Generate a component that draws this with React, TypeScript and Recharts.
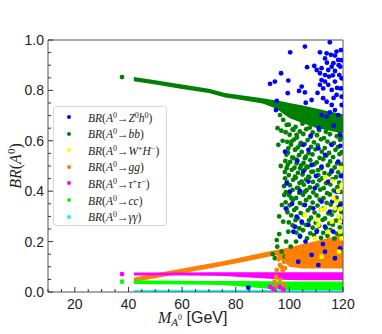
import React from 'react';
import { ComposedChart, Area, Scatter, XAxis, YAxis, ReferenceArea, Label } from 'recharts';

// band outlines (low/high) read at these masses
const bandX = [42, 50, 60, 70, 76, 80, 90, 95, 98, 100, 105, 110, 115, 120];
const bbLow = [0.836, 0.823, 0.806, 0.79, 0.772, 0.766, 0.748, 0.728, 0.705, 0.69, 0.67, 0.652, 0.64, 0.63];
const bbHigh = [0.853, 0.84, 0.823, 0.807, 0.79, 0.784, 0.769, 0.76, 0.755, 0.75, 0.74, 0.728, 0.716, 0.705];
const ggLow = [0.04, 0.055, 0.074, 0.093, 0.105, 0.113, 0.135, 0.146, 0.12, 0.1, 0.093, 0.093, 0.093, 0.093];
const ggHigh = [0.057, 0.073, 0.093, 0.112, 0.124, 0.133, 0.156, 0.167, 0.173, 0.178, 0.19, 0.202, 0.215, 0.229];
const tauLow = [0.065, 0.065, 0.065, 0.064, 0.063, 0.061, 0.055, 0.051, 0.049, 0.048, 0.047, 0.047, 0.047, 0.047];
const tauHigh = [0.077, 0.077, 0.077, 0.078, 0.078, 0.078, 0.078, 0.078, 0.078, 0.078, 0.078, 0.078, 0.078, 0.078];
const ccLow = [0.032, 0.031, 0.03, 0.029, 0.027, 0.024, 0.015, 0.011, 0.009, 0.008, 0.008, 0.008, 0.008, 0.008];
const ccHigh = [0.047, 0.046, 0.045, 0.044, 0.044, 0.044, 0.043, 0.043, 0.042, 0.042, 0.042, 0.042, 0.042, 0.042];
const gamLow = [0.001, 0.001, 0.001, 0.001, 0.001, 0.001, 0.001, 0.001, 0.001, 0.001, 0.001, 0.001, 0.001, 0.001];
const gamHigh = [0.008, 0.008, 0.008, 0.008, 0.008, 0.008, 0.008, 0.008, 0.008, 0.008, 0.008, 0.008, 0.008, 0.008];

// scattered points [mass, BR]
const zhPts = [
  [105.8, 0.974], [115.1, 0.991], [100.3, 0.951], [111.4, 0.951], [113.9, 0.947], [115.5, 0.941], [117, 0.938],
  [119.2, 0.96], [118.2, 0.921], [113.3, 0.927], [116.4, 0.908], [119, 0.894], [106.6, 0.892], [109.3, 0.897],
  [112, 0.888], [114.5, 0.881], [117, 0.877], [118.6, 0.861], [96.9, 0.868], [113.3, 0.861], [112, 0.841],
  [113.3, 0.835], [111.4, 0.822], [114.5, 0.822], [115.8, 0.802], [117.6, 0.782], [119.2, 0.808], [92.8, 0.826],
  [94.6, 0.835], [99.6, 0.839], [104.6, 0.815], [103.6, 0.798], [105.8, 0.792], [99.4, 0.789], [108.3, 0.762],
  [106.1, 0.751], [95.3, 0.758], [95, 0.722], [112.6, 0.769], [113.9, 0.755], [115.8, 0.742], [117, 0.722],
  [115.1, 0.713], [118.2, 0.702], [119.5, 0.742], [112, 0.702], [113.9, 0.696], [117.6, 0.954], [119.5, 0.848],
  [114.8, 0.855], [112.6, 0.808], [117, 0.835], [111.4, 0.868], [119.5, 0.775], [110.2, 0.881], [115.8, 0.894],
  [118.4, 0.9], [116.2, 0.86], [114, 0.91], [117.8, 0.81], [110.5, 0.79], [116.5, 0.77], [119.3, 0.92],
  [105.2, 0.584], [98.4, 0.557], [107.1, 0.564], [110.8, 0.57], [113.3, 0.544], [115.8, 0.584], [118.9, 0.623],
  [108.3, 0.504], [112, 0.497], [105.2, 0.478], [115.8, 0.478], [118.2, 0.517], [99, 0.431], [100.2, 0.398],
  [107.1, 0.438], [109.5, 0.412], [114.5, 0.438], [117.6, 0.398], [98.7, 0.332], [102.7, 0.299], [105.8, 0.345],
  [108.9, 0.332], [112, 0.359], [115.1, 0.319], [118.9, 0.345], [101.5, 0.239], [104, 0.22], [107.1, 0.266],
  [110.2, 0.239], [113.3, 0.259], [116.4, 0.239], [119.5, 0.279], [102.1, 0.259], [104.6, 0.279], [108.3, 0.147],
  [113.3, 0.16], [117, 0.134], [110.8, 0.107], [118.9, 0.173], [103.3, 0.12], [84.7, 0.017], [111, 0.65],
  [116.5, 0.66], [108, 0.62], [119, 0.58], [103, 0.52], [110, 0.46], [104, 0.4], [116, 0.36], [106, 0.2],
  [112.5, 0.19], [101, 0.35], [119.2, 0.46],
];
const bbPts = [
  [37.6, 0.853], [96.5, 0.702], [97.7, 0.683], [99, 0.663], [101.5, 0.643], [102.7, 0.623],
  [100.8, 0.597], [99.6, 0.57], [102.1, 0.564], [104, 0.584], [105.8, 0.531], [101.5, 0.531],
  [102.7, 0.511], [99, 0.491], [104, 0.491], [106.4, 0.497], [102.1, 0.458], [98.4, 0.451],
  [104.6, 0.438], [107.1, 0.458], [108.9, 0.478], [110.8, 0.464], [103.3, 0.412], [105.8, 0.398],
  [98.1, 0.385], [100.8, 0.372], [99, 0.326], [97.7, 0.279], [99.6, 0.239], [97.1, 0.16],
  [95.3, 0.206], [95.5, 0.18], [94.6, 0.134], [95.9, 0.584], [97, 0.64], [97.5, 0.6], [98.5, 0.52], [96.8, 0.5],
  [98, 0.42], [97.2, 0.345], [96.2, 0.3], [98.8, 0.2], [100.5, 0.18], [102.5, 0.2], [95.6, 0.65], [93.8, 0.15],
  [96.2, 0.23], [98.3, 0.14],
  [99.8, 0.664], [102.3, 0.655], [104.9, 0.668], [107.6, 0.652], [109.8, 0.662], [112.4, 0.657], [114.7, 0.667], [117.3, 0.653], [119.4, 0.661],
  [98.6, 0.634], [101.2, 0.645], [103.9, 0.637], [106.3, 0.646], [108.7, 0.633], [111.1, 0.642], [113.6, 0.636], [116.2, 0.647], [118.6, 0.638],
  [100.1, 0.624], [102.8, 0.613], [105.2, 0.627], [107.9, 0.616], [110.3, 0.622], [112.9, 0.611], [115.1, 0.626], [117.7, 0.618], [119.5, 0.613],
  [99.2, 0.596], [101.7, 0.605], [104.3, 0.592], [106.8, 0.603], [109.2, 0.594], [111.8, 0.606], [114.2, 0.597], [116.6, 0.591], [118.9, 0.604],
  [100.6, 0.584], [103.1, 0.573], [105.7, 0.587], [108.1, 0.576], [110.6, 0.582], [113.2, 0.571], [115.6, 0.586], [118.1, 0.575],
  [99.5, 0.553], [102.2, 0.565], [104.6, 0.556], [107.2, 0.551], [109.7, 0.566], [112.1, 0.557], [114.8, 0.552], [117.2, 0.564], [119.6, 0.555],
  [98.9, 0.545], [101.1, 0.534], [103.6, 0.543], [106.1, 0.537], [108.6, 0.546], [111.3, 0.532], [113.8, 0.541], [116.3, 0.535], [118.7, 0.547],
  [100.3, 0.516], [102.7, 0.525], [105.3, 0.512], [107.8, 0.523], [110.2, 0.514], [112.6, 0.527], [115.2, 0.518], [117.8, 0.511],
  [99.4, 0.505], [101.9, 0.493], [104.4, 0.502], [106.9, 0.496], [109.3, 0.507], [111.9, 0.491], [114.4, 0.503], [116.9, 0.494], [119.3, 0.506],
  [98.3, 0.476], [100.9, 0.485], [103.2, 0.473], [105.8, 0.486], [108.2, 0.477], [110.7, 0.484], [113.1, 0.472], [115.7, 0.483], [118.2, 0.475],
  [99.8, 0.464], [102.4, 0.453], [104.9, 0.466], [107.4, 0.455], [109.9, 0.461], [112.3, 0.452], [114.9, 0.467], [117.4, 0.456], [119.6, 0.463],
  [99.1, 0.436], [101.4, 0.445], [103.8, 0.433], [106.2, 0.446], [108.8, 0.437], [111.2, 0.443], [113.7, 0.432], [116.1, 0.447], [118.6, 0.434],
  [100.2, 0.424], [102.9, 0.413], [105.4, 0.426], [107.7, 0.415], [110.4, 0.423], [112.8, 0.412], [115.3, 0.427], [117.9, 0.416],
  [98.7, 0.396], [101.2, 0.405], [103.7, 0.393], [106.4, 0.404], [108.9, 0.395], [111.5, 0.406], [114.1, 0.392], [116.5, 0.403], [119.1, 0.397],
  [99.9, 0.384], [102.5, 0.373], [105.1, 0.386], [107.5, 0.376], [110.1, 0.383], [112.7, 0.372], [115.1, 0.387], [117.6, 0.374],
  [98.6, 0.356], [101.3, 0.365], [103.9, 0.353], [106.2, 0.364], [108.7, 0.355], [111.3, 0.366], [113.9, 0.354], [116.4, 0.363], [119.2, 0.352],
  [100.1, 0.344], [102.6, 0.333], [105.3, 0.346], [107.8, 0.335], [110.5, 0.343], [112.9, 0.332], [115.4, 0.347], [118.1, 0.336],
  [99.3, 0.316], [101.8, 0.325], [104.2, 0.313], [106.9, 0.324], [109.4, 0.315], [111.9, 0.326], [114.5, 0.312], [116.9, 0.323], [119.4, 0.317],
  [100.7, 0.304], [103.1, 0.293], [105.6, 0.306], [108.1, 0.295], [110.8, 0.303], [113.3, 0.292], [115.8, 0.307], [118.3, 0.296],
  [99.8, 0.276], [102.3, 0.285], [104.8, 0.273], [107.3, 0.284], [109.8, 0.275], [112.4, 0.286], [114.9, 0.272], [117.4, 0.283], [119.6, 0.277],
  [101.2, 0.264], [103.7, 0.253], [106.3, 0.266], [108.7, 0.255], [111.1, 0.263], [113.7, 0.252], [116.2, 0.267], [118.8, 0.256],
  [102.6, 0.236], [105.1, 0.245], [107.8, 0.233], [110.3, 0.244], [112.6, 0.235], [115.3, 0.246], [117.7, 0.232],
  [103.9, 0.224], [106.6, 0.213], [109.2, 0.226], [111.8, 0.215], [114.2, 0.223], [116.8, 0.212], [119.2, 0.227],
];
const whPts = [
  [113.3, 0.454], [118.2, 0.401], [116.4, 0.372], [119.5, 0.425], [113.3, 0.332], [117, 0.332], [118.2, 0.299],
  [118.9, 0.279], [110.2, 0.286], [110.8, 0.266], [115.8, 0.279], [109.5, 0.213], [119.5, 0.213], [114.5, 0.239],
  [117.6, 0.359], [112, 0.326], [119.5, 0.491], [105.8, 0.306], [118.9, 0.239], [118.5, 0.16], [112, 0.14],
  [116, 0.44], [119, 0.33],
];
const ggPts = [
  [96.5, 0.107], [98.4, 0.095], [99.5, 0.12], [95.3, 0.087], [101.4, 0.14], [97, 0.1], [98, 0.12], [99, 0.14],
  [96, 0.13], [97.5, 0.085], [94.5, 0.04], [95.5, 0.025], [96.5, 0.05], [93, 0.02], [95, 0.06], [98, 0.03],
  [97, 0.015],
];
const tauPts = [[37.6, 0.071], [92.8, 0.02], [96.4, 0.02], [94, 0.012], [97.8, 0.01]];
const ccPts = [[37.6, 0.041]];

const xTicks = [10, 15, 20, 25, 30, 35, 40, 45, 50, 55, 60, 65, 70, 75, 80, 85, 90, 95, 100, 105, 110, 115, 120];
const yTicks = [0, 0.05, 0.1, 0.15, 0.2, 0.25, 0.3, 0.35, 0.4, 0.45, 0.5, 0.55, 0.6, 0.65, 0.7, 0.75, 0.8, 0.85, 0.9, 0.95, 1];

const C = {
  zh: '#0000ff',
  bb: '#008000',
  wh: '#ffff00',
  gg: '#ff8000',
  tau: '#ff00ff',
  cc: '#00ff00',
  gam: '#00ffff',
};

const W = 382;
const H = 334;
const LEFT = 48;
const BOTTOM = 292;
const TICK_FONT = '"Liberation Sans", Arial, sans-serif';
const MATH_FONT = '"Liberation Serif", "Times New Roman", serif';

const bandRows = bandX.map((x, i) => ({
  x,
  bb: [bbLow[i], bbHigh[i]],
  gg: [ggLow[i], ggHigh[i]],
  tau: [tauLow[i], tauHigh[i]],
  cc: [ccLow[i], ccHigh[i]],
  gam: [gamLow[i], gamHigh[i]],
}));

const toXY = (pts: number[][]) => pts.map(([x, y]) => ({ x, y }));

const dot = (color: string) => (p: any) => <circle cx={p.cx} cy={p.cy} r={2.4} fill={color} />;

const XTick = (p: any) => {
  const v = p.payload.value;
  const x = p.payload.coordinate ?? p.x;
  const major = v % 20 === 0;
  return (
    <g>
      <line x1={x} x2={x} y1={BOTTOM} y2={BOTTOM - (major ? 5 : 3)} stroke="#333" />
      {major && (
        <text x={x} y={BOTTOM + 17} textAnchor="middle" fontSize={14} fontFamily={TICK_FONT} fill="#222">
          {v}
        </text>
      )}
    </g>
  );
};

const YTick = (p: any) => {
  const v = p.payload.value;
  const y = p.payload.coordinate ?? p.y;
  const major = Math.abs(v * 5 - Math.round(v * 5)) < 1e-6;
  return (
    <g>
      <line x1={LEFT} x2={LEFT + (major ? 5 : 3)} y1={y} y2={y} stroke="#333" />
      {major && (
        <text x={LEFT - 4} y={y + 5} textAnchor="end" fontSize={14} fontFamily={TICK_FONT} fill="#222">
          {v.toFixed(1)}
        </text>
      )}
    </g>
  );
};

const YTitle = () => (
  <text transform="translate(21,166) rotate(-90)" textAnchor="middle" fontSize={16} fontFamily={MATH_FONT} fill="#222">
    <tspan fontStyle="italic">BR</tspan>
    <tspan>(</tspan>
    <tspan fontStyle="italic">A</tspan>
    <tspan fontSize={11} dy={-6}>0</tspan>
    <tspan dy={6}>)</tspan>
  </text>
);

const XTitle = () => (
  <text x={158} y={323} fontSize={16} fontFamily={MATH_FONT} fill="#222">
    <tspan fontStyle="italic">M</tspan>
    <tspan fontStyle="italic" fontSize={11} dy={3}>A</tspan>
    <tspan fontSize={8} dy={-6}>0</tspan>
    <tspan dy={3} fontFamily={TICK_FONT} fontSize={16}> [GeV]</tspan>
  </text>
);

const sup = (s: string) => <sup style={{ fontSize: 8, fontStyle: 'normal', verticalAlign: 4 }}>{s}</sup>;
const legendItems = [
  { color: C.zh, label: <><i>BR</i>(<i>A</i>{sup('0')}→<i>Z</i>{sup('0')}<i>h</i>{sup('0')})</> },
  { color: C.bb, label: <><i>BR</i>(<i>A</i>{sup('0')}→<i>bb</i>)</> },
  { color: C.wh, label: <><i>BR</i>(<i>A</i>{sup('0')}→<i>W</i>{sup('+')}<i>H</i>{sup('−')})</> },
  { color: C.gg, label: <><i>BR</i>(<i>A</i>{sup('0')}→<i>gg</i>)</> },
  { color: C.tau, label: <><i>BR</i>(<i>A</i>{sup('0')}→<i>τ</i>{sup('+')}<i>τ</i>{sup('−')})</> },
  { color: C.cc, label: <><i>BR</i>(<i>A</i>{sup('0')}→<i>cc</i>)</> },
  { color: C.gam, label: <><i>BR</i>(<i>A</i>{sup('0')}→<i>γγ</i>)</> },
];

const band = (key: string, color: string) => (
  <Area
    type="linear"
    dataKey={key}
    stroke="none"
    fill={color}
    fillOpacity={1}
    dot={false}
    activeDot={false}
    isAnimationActive={false}
  />
);

export default function App() {
  return (
    <div style={{ position: 'absolute', left: 0, top: 0, width: W, height: H, background: '#fff' }}>
      <ComposedChart width={W} height={H} data={bandRows} margin={{ top: 40, right: 39, left: 0, bottom: 0 }}>
        <XAxis
          type="number"
          dataKey="x"
          domain={[10, 120]}
          ticks={xTicks}
          interval={0}
          height={42}
          tick={XTick}
          tickLine={false}
          axisLine={false}
          allowDataOverflow
        >
          <Label content={XTitle} />
        </XAxis>
        <YAxis
          type="number"
          domain={[0, 1]}
          ticks={yTicks}
          interval={0}
          width={48}
          tick={YTick}
          tickLine={false}
          axisLine={false}
          allowDataOverflow
        >
          <Label content={YTitle} />
        </YAxis>
        {band('gg', C.gg)}
        {band('tau', C.tau)}
        {band('cc', C.cc)}
        {band('gam', C.gam)}
        {band('bb', C.bb)}
        <Scatter data={toXY(bbPts)} dataKey="y" shape={dot(C.bb)} isAnimationActive={false} />
        <Scatter data={toXY(zhPts)} dataKey="y" shape={dot(C.zh)} isAnimationActive={false} />
        <Scatter data={toXY(whPts)} dataKey="y" shape={dot(C.wh)} isAnimationActive={false} />
        <Scatter data={toXY(ggPts)} dataKey="y" shape={dot(C.gg)} isAnimationActive={false} />
        <Scatter data={toXY(tauPts)} dataKey="y" shape={dot(C.tau)} isAnimationActive={false} />
        <Scatter data={toXY(ccPts)} dataKey="y" shape={dot(C.cc)} isAnimationActive={false} />
        <ReferenceArea x1={10} x2={120} y1={0} y2={1} fill="none" fillOpacity={0} stroke="#555" strokeWidth={1} ifOverflow="visible" />
      </ComposedChart>
      <div
        style={{
          position: 'absolute',
          left: 53,
          top: 106,
          width: 114,
          height: 120,
          boxSizing: 'border-box',
          border: '1px solid #d8d8d8',
          borderRadius: 3,
          background: 'rgba(255,255,255,0.85)',
        }}
      >
        {legendItems.map((it, i) => (
          <div
            key={i}
            style={{
              position: 'absolute',
              left: 0,
              top: 2 + i * 16.6,
              height: 16,
              display: 'flex',
              alignItems: 'center',
              fontFamily: MATH_FONT,
              fontSize: 11.5,
              color: '#222',
              whiteSpace: 'nowrap',
            }}
          >
            <span style={{ width: 4, height: 4, borderRadius: 2, background: it.color, marginLeft: 13, marginRight: 17 }} />
            <span>{it.label}</span>
          </div>
        ))}
      </div>
    </div>
  );
}
